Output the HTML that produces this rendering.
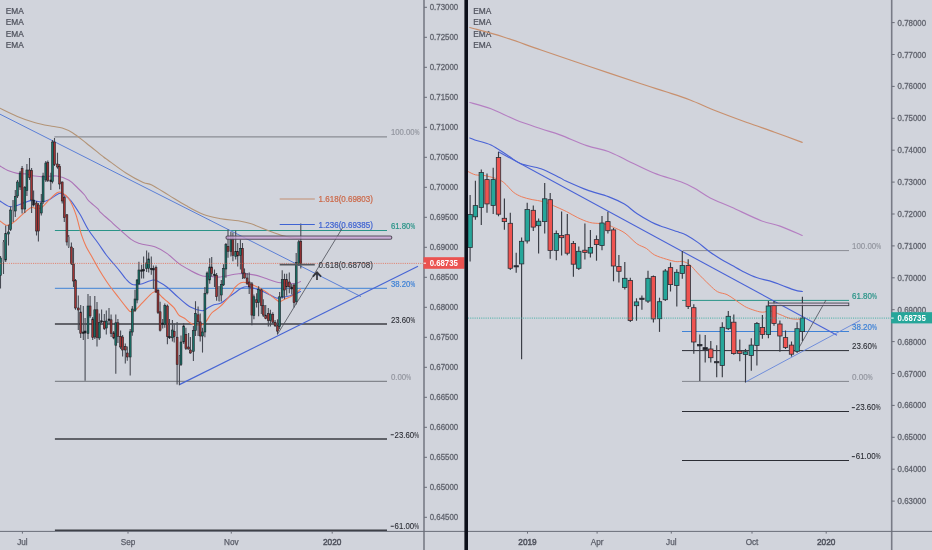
<!DOCTYPE html>
<html><head><meta charset="utf-8"><title>Chart</title>
<style>
html,body{margin:0;padding:0;background:#d1d4dc;}
body{width:932px;height:550px;overflow:hidden;font-family:"Liberation Sans",sans-serif;}
svg{display:block;opacity:0.999;will-change:transform;}
text{font-family:"Liberation Sans",sans-serif;}
</style></head><body>
<svg width="932" height="550" viewBox="0 0 932 550">
<rect x="0" y="0" width="932" height="550" fill="#d1d4dc"/>
<defs><clipPath id="cl"><rect x="0" y="0" width="424" height="531"/></clipPath><clipPath id="cr"><rect x="468" y="0" width="424" height="531"/></clipPath></defs>
<g clip-path="url(#cl)">
<line x1="54.4" y1="136.8" x2="387" y2="136.8" stroke="#8a8d94" stroke-width="1.2" />
<line x1="54.9" y1="230.4" x2="387" y2="230.4" stroke="#2a9488" stroke-width="1.05" />
<line x1="54.9" y1="288.3" x2="387" y2="288.3" stroke="#3f82d6" stroke-width="1.0" />
<line x1="54.9" y1="324" x2="387" y2="324" stroke="#3c3e45" stroke-width="1.3" />
<line x1="54.9" y1="381.4" x2="387" y2="381.4" stroke="#83868d" stroke-width="1.2" />
<line x1="54.9" y1="439" x2="387" y2="439" stroke="#3a3c43" stroke-width="1.5" />
<line x1="54.9" y1="530.4" x2="387" y2="530.4" stroke="#3a3c43" stroke-width="1.6" />
<path d="M0.0 108.2 C2.9 109.6 11.6 114.0 17.3 116.4 C23.1 118.8 28.8 120.8 34.5 122.5 C40.2 124.2 47.2 125.4 51.8 126.3 C56.4 127.2 58.8 126.9 62.2 128.0 C65.7 129.1 68.5 130.3 72.5 132.8 C76.5 135.3 81.2 139.2 86.4 143.2 C91.6 147.2 100.0 154.2 103.6 157.0 C107.2 159.8 104.1 157.3 107.8 160.0 C111.5 162.7 120.0 169.2 125.9 173.0 C131.8 176.8 138.9 180.5 143.2 182.5 C147.5 184.5 147.5 182.8 151.8 185.0 C156.1 187.2 163.3 191.9 169.1 195.4 C174.9 198.9 180.7 202.6 186.4 205.8 C192.2 209.0 197.8 212.2 203.6 214.4 C209.3 216.6 215.1 217.6 220.9 218.7 C226.7 219.8 233.3 220.0 238.2 220.8 C243.1 221.6 245.4 221.9 250.4 223.5 C255.4 225.1 262.9 228.6 268.0 230.6 C273.1 232.6 277.1 234.1 281.0 235.3 C284.9 236.5 288.5 237.2 291.7 237.7 C294.9 238.2 298.6 238.2 300.0 238.3" fill="none" stroke="#b39477" stroke-width="1.1" stroke-linejoin="round" stroke-linecap="round" />
<path d="M0.0 166.0 C1.4 166.8 5.7 169.6 8.6 170.8 C11.5 172.0 14.4 172.9 17.3 173.4 C20.2 173.9 23.0 173.5 25.9 173.9 C28.8 174.3 31.6 175.5 34.5 176.0 C37.4 176.5 39.5 176.9 43.2 176.9 C47.0 176.9 52.7 175.4 57.0 176.0 C61.3 176.6 65.5 178.3 69.0 180.3 C72.5 182.3 75.1 185.6 77.7 188.0 C80.3 190.4 82.8 192.9 84.6 195.0 C86.4 197.1 86.3 198.3 88.5 200.6 C90.7 202.9 96.1 207.0 98.0 208.9 C99.9 210.8 98.0 209.8 100.0 211.8 C102.0 213.8 107.1 218.1 110.0 220.7 C112.9 223.3 113.8 224.3 117.3 227.4 C120.8 230.5 127.4 236.7 131.1 239.4 C134.8 242.1 135.6 242.2 139.7 243.5 C143.8 244.8 150.8 245.3 155.4 247.0 C160.0 248.7 163.3 250.8 167.2 253.6 C171.1 256.4 175.1 260.8 179.0 263.6 C182.9 266.5 186.9 268.6 190.8 270.7 C194.7 272.8 199.4 275.1 202.6 276.0 C205.8 276.9 206.7 276.1 209.7 276.3 C212.7 276.5 215.6 277.4 220.4 277.0 C225.2 276.6 233.0 274.1 238.6 273.7 C244.2 273.3 249.7 274.2 254.0 274.9 C258.3 275.6 260.8 276.8 264.5 278.0 C268.2 279.2 272.4 281.1 276.3 282.0 C280.2 282.9 284.8 283.1 288.1 283.3 C291.5 283.5 294.3 283.6 296.4 283.3 C298.5 283.0 299.8 281.8 300.5 281.5" fill="none" stroke="#ad74b8" stroke-width="1.1" stroke-linejoin="round" stroke-linecap="round" />
<path d="M0.0 201.0 C1.6 201.9 6.5 205.8 9.4 206.5 C12.3 207.2 14.2 206.3 17.7 205.3 C21.2 204.3 26.8 201.2 30.7 200.6 C34.6 200.0 38.1 202.0 41.3 201.8 C44.4 201.6 46.6 200.8 49.6 199.4 C52.6 198.0 56.6 194.3 59.0 193.5 C61.4 192.7 61.8 193.5 63.8 194.7 C65.8 195.9 68.0 197.2 70.8 200.6 C73.5 203.9 77.3 209.9 80.3 214.8 C83.2 219.7 85.5 225.3 88.5 230.0 C91.5 234.7 95.0 238.8 98.0 243.0 C101.0 247.2 103.8 251.7 106.3 255.0 C108.8 258.3 110.7 260.3 113.0 263.0 C115.3 265.7 117.8 268.6 120.0 271.3 C122.2 274.0 123.9 276.8 125.9 279.0 C127.9 281.2 129.5 283.4 131.8 284.3 C134.2 285.2 136.5 285.0 140.0 284.3 C143.5 283.6 149.8 280.4 153.0 280.0 C156.2 279.6 156.6 280.8 159.0 282.0 C161.4 283.2 163.9 284.6 167.2 287.2 C170.5 289.8 174.7 294.4 178.6 297.7 C182.5 301.0 186.5 304.9 190.4 307.1 C194.3 309.3 199.2 310.6 202.2 310.7 C205.1 310.8 206.1 308.7 208.1 307.7 C210.1 306.7 211.8 305.6 214.0 304.8 C216.2 304.0 218.3 304.5 221.1 303.0 C223.9 301.5 228.3 297.6 230.6 295.9 C232.9 294.2 233.3 293.9 235.0 292.7 C236.7 291.5 238.9 289.6 240.9 288.6 C242.9 287.6 243.9 286.6 246.8 286.8 C249.8 287.0 254.7 288.4 258.6 289.8 C262.5 291.2 267.4 293.7 270.4 295.1 C273.3 296.5 274.3 297.6 276.3 298.0 C278.3 298.4 280.2 297.7 282.2 297.4 C284.2 297.1 286.1 296.8 288.1 296.3 C290.1 295.8 291.9 295.3 294.0 294.5 C296.1 293.7 299.4 292.0 300.5 291.5" fill="none" stroke="#4a63d6" stroke-width="1.1" stroke-linejoin="round" stroke-linecap="round" />
<path d="M0.0 221.0 C1.2 221.7 4.6 225.2 7.0 225.4 C9.4 225.6 11.8 223.6 14.2 221.9 C16.6 220.2 18.6 217.8 21.3 215.4 C24.1 213.0 28.4 208.9 30.7 207.7 C33.0 206.5 33.6 208.3 35.4 208.3 C37.2 208.3 38.9 209.2 41.3 207.7 C43.7 206.2 47.0 201.8 49.6 199.4 C52.2 197.0 54.7 194.2 56.7 193.0 C58.7 191.8 59.4 191.5 61.4 192.4 C63.4 193.3 66.1 194.8 68.5 198.3 C70.9 201.8 73.4 207.5 75.6 213.6 C77.8 219.7 79.7 229.4 81.5 234.9 C83.3 240.4 84.6 243.3 86.2 246.7 C87.8 250.0 89.1 251.8 90.9 255.0 C92.7 258.2 95.0 262.5 97.0 266.0 C99.0 269.5 101.0 272.8 103.0 276.0 C105.0 279.2 106.3 281.3 109.0 285.0 C111.7 288.7 116.0 294.1 119.0 298.0 C122.0 301.9 125.3 306.3 127.3 308.6 C129.3 310.9 129.4 311.4 130.8 311.6 C132.2 311.8 133.6 311.3 135.6 309.8 C137.6 308.3 139.7 305.6 142.6 302.7 C145.5 299.8 150.5 294.0 153.0 292.4 C155.5 290.8 156.2 292.1 157.8 293.0 C159.4 293.9 161.0 296.1 162.5 297.5 C164.0 298.9 164.9 299.5 166.8 301.2 C168.7 302.9 171.9 305.4 173.9 307.7 C175.9 310.0 176.8 313.0 178.6 314.8 C180.4 316.6 182.5 316.9 184.5 318.3 C186.5 319.7 188.6 321.9 190.4 323.0 C192.2 324.1 193.1 324.5 195.1 324.8 C197.1 325.1 200.4 325.3 202.2 324.8 C204.0 324.3 204.2 323.9 205.8 321.9 C207.4 319.9 209.5 315.4 211.7 313.0 C213.9 310.6 216.5 309.8 218.8 307.7 C221.2 305.6 223.5 303.4 225.8 300.6 C228.2 297.9 231.4 293.4 232.9 291.2 C234.4 289.0 233.7 288.8 235.0 287.4 C236.3 286.0 238.9 283.5 240.9 282.7 C242.9 281.9 244.8 282.3 246.8 282.7 C248.8 283.1 250.7 284.2 252.7 285.0 C254.7 285.8 256.6 286.4 258.6 287.4 C260.6 288.4 262.5 289.6 264.5 290.9 C266.5 292.2 268.4 293.6 270.4 295.1 C272.4 296.6 274.7 298.7 276.3 299.8 C277.9 300.9 278.5 301.7 279.9 301.6 C281.3 301.5 282.8 300.0 284.6 299.2 C286.4 298.4 288.7 297.7 290.5 296.8 C292.3 295.9 293.5 295.2 295.2 293.9 C296.9 292.6 299.6 290.0 300.5 289.2" fill="none" stroke="#f07a55" stroke-width="1.1" stroke-linejoin="round" stroke-linecap="round" />
<line x1="0" y1="114.2" x2="361" y2="296.6" stroke="#5b7fd6" stroke-width="1.0" />
<line x1="179.4" y1="384.6" x2="418" y2="266.2" stroke="#4866d4" stroke-width="1.2" />
<line x1="277.7" y1="334" x2="343" y2="227" stroke="#4a4c55" stroke-width="0.8" />
<line x1="0.5" y1="256" x2="0.5" y2="288.4" stroke="#484b54" stroke-width="1.1" /><rect x="-0.45" y="258.0" width="1.9" height="17.4" fill="#1a7369" stroke="#1b1d23" stroke-width="0.55"/>
<line x1="3.5" y1="240" x2="3.5" y2="274" stroke="#484b54" stroke-width="1.1" /><rect x="2.50" y="242.0" width="2.0" height="19.8" fill="#7b7e86"/>
<line x1="5.7" y1="225.4" x2="5.7" y2="262" stroke="#484b54" stroke-width="1.1" /><rect x="4.75" y="233.7" width="1.9" height="26.3" fill="#1a7369" stroke="#1b1d23" stroke-width="0.55"/>
<line x1="8.5" y1="224.8" x2="8.5" y2="245.5" stroke="#484b54" stroke-width="1.1" /><rect x="7.55" y="232.0" width="1.9" height="2.0" fill="#1a7369" stroke="#1b1d23" stroke-width="0.55"/>
<line x1="10.6" y1="206.5" x2="10.6" y2="231" stroke="#484b54" stroke-width="1.1" /><rect x="9.65" y="210.0" width="1.9" height="19.5" fill="#1a7369" stroke="#1b1d23" stroke-width="0.55"/>
<line x1="13.2" y1="200" x2="13.2" y2="222" stroke="#484b54" stroke-width="1.1" /><rect x="12.20" y="200.0" width="2.0" height="10.7" fill="#7b7e86"/>
<line x1="15.3" y1="190" x2="15.3" y2="217" stroke="#484b54" stroke-width="1.1" /><rect x="14.35" y="196.5" width="1.9" height="14.5" fill="#1a7369" stroke="#1b1d23" stroke-width="0.55"/>
<line x1="17.5" y1="180" x2="17.5" y2="198" stroke="#484b54" stroke-width="1.1" /><rect x="16.55" y="182.0" width="1.9" height="14.0" fill="#1a7369" stroke="#1b1d23" stroke-width="0.55"/>
<line x1="20.1" y1="171" x2="20.1" y2="190" stroke="#484b54" stroke-width="1.1" /><rect x="19.15" y="173.0" width="1.9" height="14.0" fill="#1a7369" stroke="#1b1d23" stroke-width="0.55"/>
<line x1="22.1" y1="166" x2="22.1" y2="213.6" stroke="#484b54" stroke-width="1.1" /><rect x="21.15" y="168.6" width="1.9" height="40.4" fill="#a03434" stroke="#1b1d23" stroke-width="0.55"/>
<line x1="24.8" y1="186" x2="24.8" y2="213" stroke="#484b54" stroke-width="1.1" /><rect x="23.85" y="187.5" width="1.9" height="21.5" fill="#1a7369" stroke="#1b1d23" stroke-width="0.55"/>
<line x1="26.9" y1="164" x2="26.9" y2="196" stroke="#484b54" stroke-width="1.1" /><rect x="25.95" y="170.0" width="1.9" height="20.5" fill="#1a7369" stroke="#1b1d23" stroke-width="0.55"/>
<line x1="29.5" y1="158" x2="29.5" y2="180" stroke="#484b54" stroke-width="1.1" /><rect x="28.55" y="170.0" width="1.9" height="7.5" fill="#a03434" stroke="#1b1d23" stroke-width="0.55"/>
<line x1="31.6" y1="168" x2="31.6" y2="213" stroke="#484b54" stroke-width="1.1" /><rect x="30.65" y="170.4" width="1.9" height="29.6" fill="#a03434" stroke="#1b1d23" stroke-width="0.55"/>
<line x1="33.6" y1="190.5" x2="33.6" y2="206.5" stroke="#484b54" stroke-width="1.1" /><rect x="32.65" y="200.0" width="1.9" height="5.0" fill="#1c1e24" stroke="#1b1d23" stroke-width="0.55"/>
<line x1="36.5" y1="201" x2="36.5" y2="235.5" stroke="#484b54" stroke-width="1.1" /><rect x="35.55" y="203.0" width="1.9" height="28.0" fill="#a03434" stroke="#1b1d23" stroke-width="0.55"/>
<line x1="38.4" y1="203" x2="38.4" y2="241.4" stroke="#484b54" stroke-width="1.1" /><rect x="37.45" y="205.0" width="1.9" height="26.0" fill="#a03434" stroke="#1b1d23" stroke-width="0.55"/>
<line x1="41.3" y1="194" x2="41.3" y2="215.5" stroke="#484b54" stroke-width="1.1" /><rect x="40.35" y="203.0" width="1.9" height="10.0" fill="#1a7369" stroke="#1b1d23" stroke-width="0.55"/>
<line x1="43.1" y1="172.8" x2="43.1" y2="204" stroke="#484b54" stroke-width="1.1" /><rect x="42.15" y="176.0" width="1.9" height="26.0" fill="#1a7369" stroke="#1b1d23" stroke-width="0.55"/>
<line x1="45.8" y1="161" x2="45.8" y2="182" stroke="#484b54" stroke-width="1.1" /><rect x="44.85" y="163.0" width="1.9" height="17.0" fill="#1a7369" stroke="#1b1d23" stroke-width="0.55"/>
<line x1="47.8" y1="160.4" x2="47.8" y2="182" stroke="#484b54" stroke-width="1.1" /><rect x="46.85" y="162.7" width="1.9" height="17.8" fill="#a03434" stroke="#1b1d23" stroke-width="0.55"/>
<line x1="50.8" y1="172.8" x2="50.8" y2="190" stroke="#484b54" stroke-width="1.1" /><rect x="49.85" y="180.0" width="1.9" height="1.6" fill="#1c1e24" stroke="#1b1d23" stroke-width="0.55"/>
<line x1="52.5" y1="140" x2="52.5" y2="183.4" stroke="#484b54" stroke-width="1.1" /><rect x="51.55" y="142.0" width="1.9" height="39.6" fill="#1a7369" stroke="#1b1d23" stroke-width="0.55"/>
<line x1="54.5" y1="138" x2="54.5" y2="166" stroke="#484b54" stroke-width="1.1" /><rect x="53.55" y="142.0" width="1.9" height="22.5" fill="#a03434" stroke="#1b1d23" stroke-width="0.55"/>
<line x1="57.5" y1="152.7" x2="57.5" y2="168.7" stroke="#484b54" stroke-width="1.1" /><rect x="56.55" y="164.0" width="1.9" height="3.0" fill="#a03434" stroke="#1b1d23" stroke-width="0.55"/>
<line x1="59.6" y1="164" x2="59.6" y2="189.3" stroke="#484b54" stroke-width="1.1" /><rect x="58.65" y="166.3" width="1.9" height="17.7" fill="#a03434" stroke="#1b1d23" stroke-width="0.55"/>
<line x1="62.2" y1="181.6" x2="62.2" y2="203.6" stroke="#484b54" stroke-width="1.1" /><rect x="61.25" y="182.0" width="1.9" height="19.0" fill="#a03434" stroke="#1b1d23" stroke-width="0.55"/>
<line x1="64.3" y1="196" x2="64.3" y2="222" stroke="#484b54" stroke-width="1.1" /><rect x="63.35" y="197.7" width="1.9" height="20.0" fill="#a03434" stroke="#1b1d23" stroke-width="0.55"/>
<line x1="66.9" y1="214" x2="66.9" y2="245.5" stroke="#484b54" stroke-width="1.1" /><rect x="65.95" y="214.8" width="1.9" height="27.2" fill="#a03434" stroke="#1b1d23" stroke-width="0.55"/>
<line x1="68.7" y1="235" x2="68.7" y2="248" stroke="#484b54" stroke-width="1.1" /><rect x="67.70" y="237.0" width="2.0" height="9.7" fill="#7b7e86"/>
<line x1="71.4" y1="242.5" x2="71.4" y2="265" stroke="#484b54" stroke-width="1.1" /><rect x="70.45" y="247.0" width="1.9" height="16.6" fill="#a03434" stroke="#1b1d23" stroke-width="0.55"/>
<line x1="73.5" y1="248" x2="73.5" y2="287" stroke="#484b54" stroke-width="1.1" /><rect x="72.55" y="264.0" width="1.9" height="17.0" fill="#a03434" stroke="#1b1d23" stroke-width="0.55"/>
<line x1="75.5" y1="279" x2="75.5" y2="309.8" stroke="#484b54" stroke-width="1.1" /><rect x="74.55" y="280.7" width="1.9" height="27.3" fill="#a03434" stroke="#1b1d23" stroke-width="0.55"/>
<line x1="78.3" y1="295.6" x2="78.3" y2="330" stroke="#484b54" stroke-width="1.1" /><rect x="77.35" y="308.0" width="1.9" height="2.0" fill="#a03434" stroke="#1b1d23" stroke-width="0.55"/>
<line x1="80.7" y1="305" x2="80.7" y2="338" stroke="#484b54" stroke-width="1.1" /><rect x="79.75" y="312.0" width="1.9" height="21.4" fill="#a03434" stroke="#1b1d23" stroke-width="0.55"/>
<line x1="83.3" y1="306" x2="83.3" y2="340" stroke="#484b54" stroke-width="1.1" /><rect x="82.35" y="332.0" width="1.9" height="1.4" fill="#1c1e24" stroke="#1b1d23" stroke-width="0.55"/>
<line x1="85.1" y1="318" x2="85.1" y2="380.8" stroke="#484b54" stroke-width="1.1" /><rect x="84.15" y="331.0" width="1.9" height="2.0" fill="#1c1e24" stroke="#1b1d23" stroke-width="0.55"/>
<line x1="88" y1="293.9" x2="88" y2="339" stroke="#484b54" stroke-width="1.1" /><rect x="87.05" y="306.0" width="1.9" height="27.4" fill="#1a7369" stroke="#1b1d23" stroke-width="0.55"/>
<line x1="90.1" y1="296" x2="90.1" y2="318" stroke="#484b54" stroke-width="1.1" /><rect x="89.15" y="306.0" width="1.9" height="10.0" fill="#a03434" stroke="#1b1d23" stroke-width="0.55"/>
<line x1="92.7" y1="317" x2="92.7" y2="339.9" stroke="#484b54" stroke-width="1.1" /><rect x="91.75" y="319.0" width="1.9" height="18.5" fill="#a03434" stroke="#1b1d23" stroke-width="0.55"/>
<line x1="94.8" y1="296" x2="94.8" y2="339" stroke="#484b54" stroke-width="1.1" /><rect x="93.85" y="309.8" width="1.9" height="27.2" fill="#1a7369" stroke="#1b1d23" stroke-width="0.55"/>
<line x1="97" y1="302" x2="97" y2="346.4" stroke="#484b54" stroke-width="1.1" /><rect x="96.05" y="309.8" width="1.9" height="27.7" fill="#a03434" stroke="#1b1d23" stroke-width="0.55"/>
<line x1="99.3" y1="313.4" x2="99.3" y2="340" stroke="#484b54" stroke-width="1.1" /><rect x="98.35" y="322.5" width="1.9" height="15.5" fill="#1a7369" stroke="#1b1d23" stroke-width="0.55"/>
<line x1="101.6" y1="309.6" x2="101.6" y2="323" stroke="#484b54" stroke-width="1.1" /><rect x="100.65" y="320.8" width="1.9" height="1.2" fill="#1c1e24" stroke="#1b1d23" stroke-width="0.55"/>
<line x1="104.3" y1="314" x2="104.3" y2="330" stroke="#484b54" stroke-width="1.1" /><rect x="103.35" y="321.6" width="1.9" height="7.1" fill="#a03434" stroke="#1b1d23" stroke-width="0.55"/>
<line x1="106.3" y1="310.4" x2="106.3" y2="334.6" stroke="#484b54" stroke-width="1.1" /><rect x="105.35" y="321.0" width="1.9" height="7.0" fill="#1a7369" stroke="#1b1d23" stroke-width="0.55"/>
<line x1="109" y1="308" x2="109" y2="324" stroke="#484b54" stroke-width="1.1" /><rect x="108.05" y="319.0" width="1.9" height="1.4" fill="#1c1e24" stroke="#1b1d23" stroke-width="0.55"/>
<line x1="111.1" y1="314.5" x2="111.1" y2="337" stroke="#484b54" stroke-width="1.1" /><rect x="110.15" y="319.8" width="1.9" height="13.6" fill="#a03434" stroke="#1b1d23" stroke-width="0.55"/>
<line x1="113.7" y1="331" x2="113.7" y2="339.3" stroke="#484b54" stroke-width="1.1" /><rect x="112.75" y="332.8" width="1.9" height="5.2" fill="#a03434" stroke="#1b1d23" stroke-width="0.55"/>
<line x1="115.8" y1="314.5" x2="115.8" y2="373.7" stroke="#484b54" stroke-width="1.1" /><rect x="114.85" y="322.8" width="1.9" height="22.4" fill="#1a7369" stroke="#1b1d23" stroke-width="0.55"/>
<line x1="117.9" y1="319" x2="117.9" y2="343" stroke="#484b54" stroke-width="1.1" /><rect x="116.95" y="322.8" width="1.9" height="13.6" fill="#a03434" stroke="#1b1d23" stroke-width="0.55"/>
<line x1="120.6" y1="330.5" x2="120.6" y2="349" stroke="#484b54" stroke-width="1.1" /><rect x="119.65" y="336.4" width="1.9" height="10.6" fill="#a03434" stroke="#1b1d23" stroke-width="0.55"/>
<line x1="122.6" y1="335" x2="122.6" y2="356.6" stroke="#484b54" stroke-width="1.1" /><rect x="121.65" y="337.0" width="1.9" height="13.0" fill="#a03434" stroke="#1b1d23" stroke-width="0.55"/>
<line x1="125.3" y1="343.6" x2="125.3" y2="363.6" stroke="#484b54" stroke-width="1.1" /><rect x="124.35" y="346.5" width="1.9" height="3.5" fill="#a03434" stroke="#1b1d23" stroke-width="0.55"/>
<line x1="127.3" y1="346.5" x2="127.3" y2="360.7" stroke="#484b54" stroke-width="1.1" /><rect x="126.35" y="353.0" width="1.9" height="4.0" fill="#a03434" stroke="#1b1d23" stroke-width="0.55"/>
<line x1="130.2" y1="329" x2="130.2" y2="375.5" stroke="#484b54" stroke-width="1.1" /><rect x="129.25" y="331.8" width="1.9" height="25.2" fill="#1a7369" stroke="#1b1d23" stroke-width="0.55"/>
<line x1="132.3" y1="306" x2="132.3" y2="335.7" stroke="#484b54" stroke-width="1.1" /><rect x="131.35" y="309.0" width="1.9" height="23.0" fill="#1a7369" stroke="#1b1d23" stroke-width="0.55"/>
<line x1="135" y1="289.7" x2="135" y2="312" stroke="#484b54" stroke-width="1.1" /><rect x="134.05" y="299.0" width="1.9" height="11.4" fill="#1a7369" stroke="#1b1d23" stroke-width="0.55"/>
<line x1="137.1" y1="279" x2="137.1" y2="303.3" stroke="#484b54" stroke-width="1.1" /><rect x="136.15" y="280.0" width="1.9" height="20.0" fill="#1a7369" stroke="#1b1d23" stroke-width="0.55"/>
<line x1="138.9" y1="261.8" x2="138.9" y2="285" stroke="#484b54" stroke-width="1.1" /><rect x="137.95" y="270.0" width="1.9" height="13.7" fill="#1a7369" stroke="#1b1d23" stroke-width="0.55"/>
<line x1="141.6" y1="264.8" x2="141.6" y2="278.4" stroke="#484b54" stroke-width="1.1" /><rect x="140.65" y="270.0" width="1.9" height="1.2" fill="#1c1e24" stroke="#1b1d23" stroke-width="0.55"/>
<line x1="143.6" y1="256.5" x2="143.6" y2="278.4" stroke="#484b54" stroke-width="1.1" /><rect x="142.65" y="269.6" width="1.9" height="1.4" fill="#1c1e24" stroke="#1b1d23" stroke-width="0.55"/>
<line x1="146.6" y1="250.6" x2="146.6" y2="271.9" stroke="#484b54" stroke-width="1.1" /><rect x="145.65" y="263.0" width="1.9" height="5.3" fill="#1a7369" stroke="#1b1d23" stroke-width="0.55"/>
<line x1="148.7" y1="252.4" x2="148.7" y2="272.5" stroke="#484b54" stroke-width="1.1" /><rect x="147.75" y="258.9" width="1.9" height="9.4" fill="#1a7369" stroke="#1b1d23" stroke-width="0.55"/>
<line x1="151.3" y1="256.5" x2="151.3" y2="274.8" stroke="#484b54" stroke-width="1.1" /><rect x="150.35" y="268.3" width="1.9" height="1.4" fill="#1c1e24" stroke="#1b1d23" stroke-width="0.55"/>
<line x1="153.4" y1="265.4" x2="153.4" y2="289" stroke="#484b54" stroke-width="1.1" /><rect x="152.45" y="268.5" width="1.9" height="1.5" fill="#1c1e24" stroke="#1b1d23" stroke-width="0.55"/>
<line x1="156" y1="265.4" x2="156" y2="293" stroke="#484b54" stroke-width="1.1" /><rect x="155.05" y="267.7" width="1.9" height="24.3" fill="#a03434" stroke="#1b1d23" stroke-width="0.55"/>
<line x1="158" y1="289" x2="158" y2="314" stroke="#484b54" stroke-width="1.1" /><rect x="157.05" y="290.5" width="1.9" height="22.0" fill="#a03434" stroke="#1b1d23" stroke-width="0.55"/>
<line x1="160.1" y1="301.8" x2="160.1" y2="331.5" stroke="#484b54" stroke-width="1.1" /><rect x="159.15" y="311.8" width="1.9" height="18.4" fill="#a03434" stroke="#1b1d23" stroke-width="0.55"/>
<line x1="162.7" y1="319" x2="162.7" y2="328.4" stroke="#484b54" stroke-width="1.1" /><rect x="161.75" y="323.0" width="1.9" height="1.5" fill="#1c1e24" stroke="#1b1d23" stroke-width="0.55"/>
<line x1="164.8" y1="303.6" x2="164.8" y2="327.8" stroke="#484b54" stroke-width="1.1" /><rect x="163.85" y="305.5" width="1.9" height="18.7" fill="#1a7369" stroke="#1b1d23" stroke-width="0.55"/>
<line x1="167.4" y1="304.5" x2="167.4" y2="344.3" stroke="#484b54" stroke-width="1.1" /><rect x="166.45" y="306.0" width="1.9" height="30.6" fill="#a03434" stroke="#1b1d23" stroke-width="0.55"/>
<line x1="169.5" y1="319" x2="169.5" y2="339" stroke="#484b54" stroke-width="1.1" /><rect x="168.55" y="336.6" width="1.9" height="1.2" fill="#1c1e24" stroke="#1b1d23" stroke-width="0.55"/>
<line x1="172.4" y1="320" x2="172.4" y2="341.4" stroke="#484b54" stroke-width="1.1" /><rect x="171.45" y="330.0" width="1.9" height="7.8" fill="#1a7369" stroke="#1b1d23" stroke-width="0.55"/>
<line x1="174.2" y1="323.6" x2="174.2" y2="342.5" stroke="#484b54" stroke-width="1.1" /><rect x="173.25" y="331.3" width="1.9" height="5.3" fill="#a03434" stroke="#1b1d23" stroke-width="0.55"/>
<line x1="177.1" y1="321.9" x2="177.1" y2="384.6" stroke="#484b54" stroke-width="1.1" /><rect x="176.15" y="337.2" width="1.9" height="27.3" fill="#a03434" stroke="#1b1d23" stroke-width="0.55"/>
<line x1="179.4" y1="355" x2="179.4" y2="385.2" stroke="#484b54" stroke-width="1.1" /><rect x="178.40" y="356.0" width="2.0" height="8.5" fill="#7b7e86"/>
<line x1="181" y1="335.5" x2="181" y2="366" stroke="#484b54" stroke-width="1.1" /><rect x="180.05" y="342.0" width="1.9" height="22.5" fill="#1a7369" stroke="#1b1d23" stroke-width="0.55"/>
<line x1="183.7" y1="323" x2="183.7" y2="344" stroke="#484b54" stroke-width="1.1" /><rect x="182.75" y="326.0" width="1.9" height="16.0" fill="#1a7369" stroke="#1b1d23" stroke-width="0.55"/>
<line x1="185.9" y1="327.8" x2="185.9" y2="350" stroke="#484b54" stroke-width="1.1" /><rect x="184.95" y="334.3" width="1.9" height="14.1" fill="#a03434" stroke="#1b1d23" stroke-width="0.55"/>
<line x1="188.6" y1="333" x2="188.6" y2="349.6" stroke="#484b54" stroke-width="1.1" /><rect x="187.65" y="347.0" width="1.9" height="2.0" fill="#a03434" stroke="#1b1d23" stroke-width="0.55"/>
<line x1="190.4" y1="337" x2="190.4" y2="353.8" stroke="#484b54" stroke-width="1.1" /><rect x="189.45" y="350.0" width="1.9" height="3.0" fill="#a03434" stroke="#1b1d23" stroke-width="0.55"/>
<line x1="193.4" y1="326" x2="193.4" y2="361" stroke="#484b54" stroke-width="1.1" /><rect x="192.45" y="330.7" width="1.9" height="20.7" fill="#1a7369" stroke="#1b1d23" stroke-width="0.55"/>
<line x1="195.5" y1="301.2" x2="195.5" y2="336" stroke="#484b54" stroke-width="1.1" /><rect x="194.55" y="313.6" width="1.9" height="17.1" fill="#1a7369" stroke="#1b1d23" stroke-width="0.55"/>
<line x1="198.1" y1="306.5" x2="198.1" y2="336" stroke="#484b54" stroke-width="1.1" /><rect x="197.15" y="314.8" width="1.9" height="7.1" fill="#a03434" stroke="#1b1d23" stroke-width="0.55"/>
<line x1="200.2" y1="313.6" x2="200.2" y2="341.4" stroke="#484b54" stroke-width="1.1" /><rect x="199.25" y="321.9" width="1.9" height="14.1" fill="#a03434" stroke="#1b1d23" stroke-width="0.55"/>
<line x1="202.5" y1="327.8" x2="202.5" y2="352.6" stroke="#484b54" stroke-width="1.1" /><rect x="201.55" y="332.0" width="1.9" height="4.0" fill="#1a7369" stroke="#1b1d23" stroke-width="0.55"/>
<line x1="204.9" y1="287" x2="204.9" y2="337.2" stroke="#484b54" stroke-width="1.1" /><rect x="203.95" y="293.5" width="1.9" height="38.5" fill="#1a7369" stroke="#1b1d23" stroke-width="0.55"/>
<line x1="207.1" y1="271.5" x2="207.1" y2="294.5" stroke="#484b54" stroke-width="1.1" /><rect x="206.15" y="273.0" width="1.9" height="20.0" fill="#1a7369" stroke="#1b1d23" stroke-width="0.55"/>
<line x1="209.7" y1="258.3" x2="209.7" y2="283.7" stroke="#484b54" stroke-width="1.1" /><rect x="208.75" y="267.0" width="1.9" height="13.0" fill="#1a7369" stroke="#1b1d23" stroke-width="0.55"/>
<line x1="211.7" y1="257" x2="211.7" y2="276.6" stroke="#484b54" stroke-width="1.1" /><rect x="210.75" y="267.0" width="1.9" height="6.6" fill="#a03434" stroke="#1b1d23" stroke-width="0.55"/>
<line x1="214.5" y1="269.5" x2="214.5" y2="287" stroke="#484b54" stroke-width="1.1" /><rect x="213.55" y="274.2" width="1.9" height="1.4" fill="#1c1e24" stroke="#1b1d23" stroke-width="0.55"/>
<line x1="216.6" y1="273" x2="216.6" y2="300.8" stroke="#484b54" stroke-width="1.1" /><rect x="215.65" y="275.4" width="1.9" height="21.3" fill="#a03434" stroke="#1b1d23" stroke-width="0.55"/>
<line x1="219.2" y1="286" x2="219.2" y2="301.6" stroke="#484b54" stroke-width="1.1" /><rect x="218.20" y="286.0" width="2.0" height="15.0" fill="#7b7e86"/>
<line x1="221.3" y1="280" x2="221.3" y2="301.4" stroke="#484b54" stroke-width="1.1" /><rect x="220.35" y="284.3" width="1.9" height="10.7" fill="#1a7369" stroke="#1b1d23" stroke-width="0.55"/>
<line x1="223.5" y1="264.2" x2="223.5" y2="286" stroke="#484b54" stroke-width="1.1" /><rect x="222.55" y="268.3" width="1.9" height="16.6" fill="#1a7369" stroke="#1b1d23" stroke-width="0.55"/>
<line x1="225.9" y1="243" x2="225.9" y2="277.8" stroke="#484b54" stroke-width="1.1" /><rect x="224.95" y="244.7" width="1.9" height="24.3" fill="#1a7369" stroke="#1b1d23" stroke-width="0.55"/>
<line x1="228" y1="229.4" x2="228" y2="257.7" stroke="#484b54" stroke-width="1.1" /><rect x="227.05" y="246.3" width="1.9" height="5.0" fill="#a03434" stroke="#1b1d23" stroke-width="0.55"/>
<line x1="230.9" y1="231.8" x2="230.9" y2="256.6" stroke="#484b54" stroke-width="1.1" /><rect x="229.95" y="239.5" width="1.9" height="11.8" fill="#1a7369" stroke="#1b1d23" stroke-width="0.55"/>
<line x1="232.9" y1="232.4" x2="232.9" y2="261.3" stroke="#484b54" stroke-width="1.1" /><rect x="231.95" y="239.5" width="1.9" height="15.9" fill="#a03434" stroke="#1b1d23" stroke-width="0.55"/>
<line x1="235.7" y1="230.6" x2="235.7" y2="259.6" stroke="#484b54" stroke-width="1.1" /><rect x="234.75" y="251.3" width="1.9" height="5.3" fill="#1a7369" stroke="#1b1d23" stroke-width="0.55"/>
<line x1="237.7" y1="243" x2="237.7" y2="266.6" stroke="#484b54" stroke-width="1.1" /><rect x="236.75" y="251.3" width="1.9" height="4.7" fill="#a03434" stroke="#1b1d23" stroke-width="0.55"/>
<line x1="240.4" y1="239.5" x2="240.4" y2="269.6" stroke="#484b54" stroke-width="1.1" /><rect x="239.45" y="248.3" width="1.9" height="7.1" fill="#1a7369" stroke="#1b1d23" stroke-width="0.55"/>
<line x1="242.5" y1="243" x2="242.5" y2="279" stroke="#484b54" stroke-width="1.1" /><rect x="241.55" y="248.3" width="1.9" height="24.8" fill="#a03434" stroke="#1b1d23" stroke-width="0.55"/>
<line x1="244.5" y1="268.4" x2="244.5" y2="278.5" stroke="#484b54" stroke-width="1.1" /><rect x="243.55" y="273.0" width="1.9" height="5.0" fill="#a03434" stroke="#1b1d23" stroke-width="0.55"/>
<line x1="247.1" y1="273" x2="247.1" y2="285" stroke="#484b54" stroke-width="1.1" /><rect x="246.15" y="278.0" width="1.9" height="5.5" fill="#a03434" stroke="#1b1d23" stroke-width="0.55"/>
<line x1="249.2" y1="272.5" x2="249.2" y2="293.9" stroke="#484b54" stroke-width="1.1" /><rect x="248.25" y="282.0" width="1.9" height="4.8" fill="#a03434" stroke="#1b1d23" stroke-width="0.55"/>
<line x1="251.9" y1="282" x2="251.9" y2="325.2" stroke="#484b54" stroke-width="1.1" /><rect x="250.95" y="283.9" width="1.9" height="31.2" fill="#a03434" stroke="#1b1d23" stroke-width="0.55"/>
<line x1="253.9" y1="294.5" x2="253.9" y2="319.3" stroke="#484b54" stroke-width="1.1" /><rect x="252.95" y="296.8" width="1.9" height="18.9" fill="#1a7369" stroke="#1b1d23" stroke-width="0.55"/>
<line x1="256.6" y1="293.3" x2="256.6" y2="307.5" stroke="#484b54" stroke-width="1.1" /><rect x="255.65" y="299.8" width="1.9" height="2.9" fill="#a03434" stroke="#1b1d23" stroke-width="0.55"/>
<line x1="258.6" y1="286.2" x2="258.6" y2="316.3" stroke="#484b54" stroke-width="1.1" /><rect x="257.65" y="289.2" width="1.9" height="13.5" fill="#1a7369" stroke="#1b1d23" stroke-width="0.55"/>
<line x1="261.3" y1="288.6" x2="261.3" y2="314" stroke="#484b54" stroke-width="1.1" /><rect x="260.35" y="289.8" width="1.9" height="15.9" fill="#a03434" stroke="#1b1d23" stroke-width="0.55"/>
<line x1="263.3" y1="299.2" x2="263.3" y2="316.9" stroke="#484b54" stroke-width="1.1" /><rect x="262.35" y="305.7" width="1.9" height="9.4" fill="#a03434" stroke="#1b1d23" stroke-width="0.55"/>
<line x1="265.7" y1="305.1" x2="265.7" y2="319.3" stroke="#484b54" stroke-width="1.1" /><rect x="264.75" y="315.1" width="1.9" height="3.6" fill="#a03434" stroke="#1b1d23" stroke-width="0.55"/>
<line x1="268.3" y1="308" x2="268.3" y2="326.4" stroke="#484b54" stroke-width="1.1" /><rect x="267.35" y="313.4" width="1.9" height="7.1" fill="#a03434" stroke="#1b1d23" stroke-width="0.55"/>
<line x1="270.4" y1="309.8" x2="270.4" y2="326.4" stroke="#484b54" stroke-width="1.1" /><rect x="269.45" y="314.0" width="1.9" height="6.5" fill="#1a7369" stroke="#1b1d23" stroke-width="0.55"/>
<line x1="272.8" y1="312.2" x2="272.8" y2="323.4" stroke="#484b54" stroke-width="1.1" /><rect x="271.85" y="314.5" width="1.9" height="7.7" fill="#a03434" stroke="#1b1d23" stroke-width="0.55"/>
<line x1="275.1" y1="319.9" x2="275.1" y2="327" stroke="#484b54" stroke-width="1.1" /><rect x="274.15" y="322.2" width="1.9" height="3.6" fill="#a03434" stroke="#1b1d23" stroke-width="0.55"/>
<line x1="277.5" y1="319.3" x2="277.5" y2="334.6" stroke="#484b54" stroke-width="1.1" /><rect x="276.55" y="325.8" width="1.9" height="5.3" fill="#a03434" stroke="#1b1d23" stroke-width="0.55"/>
<line x1="279.6" y1="292.1" x2="279.6" y2="329.3" stroke="#484b54" stroke-width="1.1" /><rect x="278.65" y="296.8" width="1.9" height="29.6" fill="#1a7369" stroke="#1b1d23" stroke-width="0.55"/>
<line x1="282.2" y1="270.2" x2="282.2" y2="298.6" stroke="#484b54" stroke-width="1.1" /><rect x="281.25" y="279.7" width="1.9" height="17.1" fill="#1a7369" stroke="#1b1d23" stroke-width="0.55"/>
<line x1="284.5" y1="273.7" x2="284.5" y2="299.2" stroke="#484b54" stroke-width="1.1" /><rect x="283.55" y="279.7" width="1.9" height="10.3" fill="#a03434" stroke="#1b1d23" stroke-width="0.55"/>
<line x1="286.7" y1="273.7" x2="286.7" y2="295.7" stroke="#484b54" stroke-width="1.1" /><rect x="285.75" y="279.7" width="1.9" height="7.1" fill="#a03434" stroke="#1b1d23" stroke-width="0.55"/>
<line x1="289.3" y1="272.5" x2="289.3" y2="293.3" stroke="#484b54" stroke-width="1.1" /><rect x="288.35" y="282.0" width="1.9" height="4.8" fill="#a03434" stroke="#1b1d23" stroke-width="0.55"/>
<line x1="291.7" y1="283.9" x2="291.7" y2="294.5" stroke="#484b54" stroke-width="1.1" /><rect x="290.75" y="287.0" width="1.9" height="2.0" fill="#1c1e24" stroke="#1b1d23" stroke-width="0.55"/>
<line x1="294" y1="283.5" x2="294" y2="307.5" stroke="#484b54" stroke-width="1.1" /><rect x="293.05" y="285.0" width="1.9" height="17.7" fill="#a03434" stroke="#1b1d23" stroke-width="0.55"/>
<line x1="296.2" y1="253" x2="296.2" y2="304.5" stroke="#484b54" stroke-width="1.1" /><rect x="295.25" y="262.5" width="1.9" height="39.1" fill="#1a7369" stroke="#1b1d23" stroke-width="0.55"/>
<line x1="298.8" y1="240" x2="298.8" y2="266" stroke="#484b54" stroke-width="1.1" /><rect x="297.85" y="241.8" width="1.9" height="22.5" fill="#1a7369" stroke="#1b1d23" stroke-width="0.55"/>
<line x1="300.8" y1="223.5" x2="300.8" y2="268.4" stroke="#484b54" stroke-width="1.1" /><rect x="299.85" y="241.3" width="1.9" height="22.4" fill="#a03434" stroke="#1b1d23" stroke-width="0.55"/>
<line x1="0" y1="263.4" x2="424" y2="263.4" stroke="#ea5b3c" stroke-width="0.8" stroke-dasharray="1.1 1.1" stroke-opacity="0.85"/>
<rect x="226" y="236" width="165.8" height="3.2" rx="1.4" fill="#c8a4d6" fill-opacity="0.8" stroke="#4a4552" stroke-opacity="0.9" stroke-width="1.1"/>
<line x1="279.7" y1="199" x2="314.8" y2="199" stroke="#c48d70" stroke-width="1.05" />
<line x1="279.7" y1="224.5" x2="314.8" y2="224.5" stroke="#3f63d2" stroke-width="1.2" />
<line x1="279.7" y1="264.6" x2="314.8" y2="264.6" stroke="#55585f" stroke-width="1.6" />
<path d="M312.9 276.6 L317 272.2 L321.1 276.6 M317 272.6 L317 280" fill="none" stroke="#33353c" stroke-width="1.7" stroke-linejoin="miter"/>
</g>
<text x="390.9" y="135.3" fill="#9497a0" font-size="8.9" text-anchor="start" font-weight="normal" textLength="23.65" lengthAdjust="spacingAndGlyphs" stroke="#9497a0" stroke-width="0.22" >100.00</text>
<text x="414.65" y="135.3" fill="#9497a0" font-size="8.9" text-anchor="start" font-weight="normal" textLength="4.7" lengthAdjust="spacingAndGlyphs" stroke="#9497a0" stroke-width="0.22" >%</text>
<text x="390.9" y="229.2" fill="#2a9488" font-size="8.9" text-anchor="start" font-weight="normal" textLength="19.5" lengthAdjust="spacingAndGlyphs" stroke="#2a9488" stroke-width="0.22" >61.80</text>
<text x="410.5" y="229.2" fill="#2a9488" font-size="8.9" text-anchor="start" font-weight="normal" textLength="4.7" lengthAdjust="spacingAndGlyphs" stroke="#2a9488" stroke-width="0.22" >%</text>
<text x="390.9" y="286.7" fill="#3f82d6" font-size="8.9" text-anchor="start" font-weight="normal" textLength="19.5" lengthAdjust="spacingAndGlyphs" stroke="#3f82d6" stroke-width="0.22" >38.20</text>
<text x="410.5" y="286.7" fill="#3f82d6" font-size="8.9" text-anchor="start" font-weight="normal" textLength="4.7" lengthAdjust="spacingAndGlyphs" stroke="#3f82d6" stroke-width="0.22" >%</text>
<text x="390.9" y="322.5" fill="#2b2d34" font-size="8.9" text-anchor="start" font-weight="normal" textLength="19.5" lengthAdjust="spacingAndGlyphs" stroke="#2b2d34" stroke-width="0.1" >23.60</text>
<text x="410.5" y="322.5" fill="#2b2d34" font-size="8.9" text-anchor="start" font-weight="normal" textLength="4.7" lengthAdjust="spacingAndGlyphs" stroke="#2b2d34" stroke-width="0.1" >%</text>
<text x="390.9" y="379.9" fill="#9497a0" font-size="8.9" text-anchor="start" font-weight="normal" textLength="15.35" lengthAdjust="spacingAndGlyphs" stroke="#9497a0" stroke-width="0.22" >0.00</text>
<text x="406.35" y="379.9" fill="#9497a0" font-size="8.9" text-anchor="start" font-weight="normal" textLength="4.7" lengthAdjust="spacingAndGlyphs" stroke="#9497a0" stroke-width="0.22" >%</text>
<line x1="390.7" y1="434.75" x2="393.79999999999995" y2="434.75" stroke="#2b2d34" stroke-width="1.0" />
<text x="394.59999999999997" y="437.5" fill="#2b2d34" font-size="8.9" text-anchor="start" font-weight="normal" textLength="19.5" lengthAdjust="spacingAndGlyphs" stroke="#2b2d34" stroke-width="0.1" >23.60</text>
<text x="414.2" y="437.5" fill="#2b2d34" font-size="8.9" text-anchor="start" font-weight="normal" textLength="4.7" lengthAdjust="spacingAndGlyphs" stroke="#2b2d34" stroke-width="0.1" >%</text>
<line x1="390.7" y1="526.25" x2="393.79999999999995" y2="526.25" stroke="#2b2d34" stroke-width="1.0" />
<text x="394.59999999999997" y="529.0" fill="#2b2d34" font-size="8.9" text-anchor="start" font-weight="normal" textLength="19.5" lengthAdjust="spacingAndGlyphs" stroke="#2b2d34" stroke-width="0.1" >61.00</text>
<text x="414.2" y="529.0" fill="#2b2d34" font-size="8.9" text-anchor="start" font-weight="normal" textLength="4.7" lengthAdjust="spacingAndGlyphs" stroke="#2b2d34" stroke-width="0.1" >%</text>
<text x="318.6" y="202.1" fill="#cc6848" font-size="8.9" text-anchor="start" font-weight="normal" textLength="54.3" lengthAdjust="spacingAndGlyphs" stroke="#cc6848" stroke-width="0.22" >1.618(0.69803)</text>
<text x="318.6" y="227.6" fill="#3f63d2" font-size="8.9" text-anchor="start" font-weight="normal" textLength="54.3" lengthAdjust="spacingAndGlyphs" stroke="#3f63d2" stroke-width="0.22" >1.236(0.69385)</text>
<text x="318.6" y="267.7" fill="#33353c" font-size="8.9" text-anchor="start" font-weight="normal" textLength="54.3" lengthAdjust="spacingAndGlyphs" stroke="#33353c" stroke-width="0.1" >0.618(0.68708)</text>
<text x="5.8" y="14.0" fill="#50535e" font-size="8.2" text-anchor="start" font-weight="normal" textLength="18.1" lengthAdjust="spacingAndGlyphs" stroke="#50535e" stroke-width="0.22" >EMA</text>
<text x="473.3" y="14.0" fill="#50535e" font-size="8.2" text-anchor="start" font-weight="normal" textLength="18.1" lengthAdjust="spacingAndGlyphs" stroke="#50535e" stroke-width="0.22" >EMA</text>
<text x="5.8" y="25.4" fill="#50535e" font-size="8.2" text-anchor="start" font-weight="normal" textLength="18.1" lengthAdjust="spacingAndGlyphs" stroke="#50535e" stroke-width="0.22" >EMA</text>
<text x="473.3" y="25.4" fill="#50535e" font-size="8.2" text-anchor="start" font-weight="normal" textLength="18.1" lengthAdjust="spacingAndGlyphs" stroke="#50535e" stroke-width="0.22" >EMA</text>
<text x="5.8" y="36.8" fill="#50535e" font-size="8.2" text-anchor="start" font-weight="normal" textLength="18.1" lengthAdjust="spacingAndGlyphs" stroke="#50535e" stroke-width="0.22" >EMA</text>
<text x="473.3" y="36.8" fill="#50535e" font-size="8.2" text-anchor="start" font-weight="normal" textLength="18.1" lengthAdjust="spacingAndGlyphs" stroke="#50535e" stroke-width="0.22" >EMA</text>
<text x="5.8" y="48.1" fill="#50535e" font-size="8.2" text-anchor="start" font-weight="normal" textLength="18.1" lengthAdjust="spacingAndGlyphs" stroke="#50535e" stroke-width="0.22" >EMA</text>
<text x="473.3" y="48.1" fill="#50535e" font-size="8.2" text-anchor="start" font-weight="normal" textLength="18.1" lengthAdjust="spacingAndGlyphs" stroke="#50535e" stroke-width="0.22" >EMA</text>
<line x1="424" y1="0" x2="424" y2="550" stroke="#787b86" stroke-width="1.6" />
<line x1="0" y1="531.4" x2="465" y2="531.4" stroke="#6a6d78" stroke-width="1" />
<line x1="424" y1="7.3" x2="427" y2="7.3" stroke="#6a6d78" stroke-width="1" />
<text x="429.7" y="10.3" fill="#62656f" font-size="8.9" text-anchor="start" font-weight="normal" textLength="28.5" lengthAdjust="spacingAndGlyphs" stroke="#62656f" stroke-width="0.32" >0.73000</text>
<line x1="424" y1="37.300000000000026" x2="427" y2="37.300000000000026" stroke="#6a6d78" stroke-width="1" />
<text x="429.7" y="40.300000000000026" fill="#62656f" font-size="8.9" text-anchor="start" font-weight="normal" textLength="28.5" lengthAdjust="spacingAndGlyphs" stroke="#62656f" stroke-width="0.32" >0.72500</text>
<line x1="424" y1="67.30000000000005" x2="427" y2="67.30000000000005" stroke="#6a6d78" stroke-width="1" />
<text x="429.7" y="70.30000000000005" fill="#62656f" font-size="8.9" text-anchor="start" font-weight="normal" textLength="28.5" lengthAdjust="spacingAndGlyphs" stroke="#62656f" stroke-width="0.32" >0.72000</text>
<line x1="424" y1="97.30000000000008" x2="427" y2="97.30000000000008" stroke="#6a6d78" stroke-width="1" />
<text x="429.7" y="100.30000000000008" fill="#62656f" font-size="8.9" text-anchor="start" font-weight="normal" textLength="28.5" lengthAdjust="spacingAndGlyphs" stroke="#62656f" stroke-width="0.32" >0.71500</text>
<line x1="424" y1="127.30000000000011" x2="427" y2="127.30000000000011" stroke="#6a6d78" stroke-width="1" />
<text x="429.7" y="130.30000000000013" fill="#62656f" font-size="8.9" text-anchor="start" font-weight="normal" textLength="28.5" lengthAdjust="spacingAndGlyphs" stroke="#62656f" stroke-width="0.32" >0.71000</text>
<line x1="424" y1="157.30000000000015" x2="427" y2="157.30000000000015" stroke="#6a6d78" stroke-width="1" />
<text x="429.7" y="160.30000000000015" fill="#62656f" font-size="8.9" text-anchor="start" font-weight="normal" textLength="28.5" lengthAdjust="spacingAndGlyphs" stroke="#62656f" stroke-width="0.32" >0.70500</text>
<line x1="424" y1="187.30000000000018" x2="427" y2="187.30000000000018" stroke="#6a6d78" stroke-width="1" />
<text x="429.7" y="190.30000000000018" fill="#62656f" font-size="8.9" text-anchor="start" font-weight="normal" textLength="28.5" lengthAdjust="spacingAndGlyphs" stroke="#62656f" stroke-width="0.32" >0.70000</text>
<line x1="424" y1="217.3000000000002" x2="427" y2="217.3000000000002" stroke="#6a6d78" stroke-width="1" />
<text x="429.7" y="220.3000000000002" fill="#62656f" font-size="8.9" text-anchor="start" font-weight="normal" textLength="28.5" lengthAdjust="spacingAndGlyphs" stroke="#62656f" stroke-width="0.32" >0.69500</text>
<line x1="424" y1="247.30000000000024" x2="427" y2="247.30000000000024" stroke="#6a6d78" stroke-width="1" />
<text x="429.7" y="250.30000000000024" fill="#62656f" font-size="8.9" text-anchor="start" font-weight="normal" textLength="28.5" lengthAdjust="spacingAndGlyphs" stroke="#62656f" stroke-width="0.32" >0.69000</text>
<line x1="424" y1="277.30000000000024" x2="427" y2="277.30000000000024" stroke="#6a6d78" stroke-width="1" />
<text x="429.7" y="280.30000000000024" fill="#62656f" font-size="8.9" text-anchor="start" font-weight="normal" textLength="28.5" lengthAdjust="spacingAndGlyphs" stroke="#62656f" stroke-width="0.32" >0.68500</text>
<line x1="424" y1="307.3000000000003" x2="427" y2="307.3000000000003" stroke="#6a6d78" stroke-width="1" />
<text x="429.7" y="310.3000000000003" fill="#62656f" font-size="8.9" text-anchor="start" font-weight="normal" textLength="28.5" lengthAdjust="spacingAndGlyphs" stroke="#62656f" stroke-width="0.32" >0.68000</text>
<line x1="424" y1="337.3000000000003" x2="427" y2="337.3000000000003" stroke="#6a6d78" stroke-width="1" />
<text x="429.7" y="340.3000000000003" fill="#62656f" font-size="8.9" text-anchor="start" font-weight="normal" textLength="28.5" lengthAdjust="spacingAndGlyphs" stroke="#62656f" stroke-width="0.32" >0.67500</text>
<line x1="424" y1="367.30000000000035" x2="427" y2="367.30000000000035" stroke="#6a6d78" stroke-width="1" />
<text x="429.7" y="370.30000000000035" fill="#62656f" font-size="8.9" text-anchor="start" font-weight="normal" textLength="28.5" lengthAdjust="spacingAndGlyphs" stroke="#62656f" stroke-width="0.32" >0.67000</text>
<line x1="424" y1="397.30000000000035" x2="427" y2="397.30000000000035" stroke="#6a6d78" stroke-width="1" />
<text x="429.7" y="400.30000000000035" fill="#62656f" font-size="8.9" text-anchor="start" font-weight="normal" textLength="28.5" lengthAdjust="spacingAndGlyphs" stroke="#62656f" stroke-width="0.32" >0.66500</text>
<line x1="424" y1="427.3000000000004" x2="427" y2="427.3000000000004" stroke="#6a6d78" stroke-width="1" />
<text x="429.7" y="430.3000000000004" fill="#62656f" font-size="8.9" text-anchor="start" font-weight="normal" textLength="28.5" lengthAdjust="spacingAndGlyphs" stroke="#62656f" stroke-width="0.32" >0.66000</text>
<line x1="424" y1="457.3000000000004" x2="427" y2="457.3000000000004" stroke="#6a6d78" stroke-width="1" />
<text x="429.7" y="460.3000000000004" fill="#62656f" font-size="8.9" text-anchor="start" font-weight="normal" textLength="28.5" lengthAdjust="spacingAndGlyphs" stroke="#62656f" stroke-width="0.32" >0.65500</text>
<line x1="424" y1="487.30000000000047" x2="427" y2="487.30000000000047" stroke="#6a6d78" stroke-width="1" />
<text x="429.7" y="490.30000000000047" fill="#62656f" font-size="8.9" text-anchor="start" font-weight="normal" textLength="28.5" lengthAdjust="spacingAndGlyphs" stroke="#62656f" stroke-width="0.32" >0.65000</text>
<line x1="424" y1="517.3000000000004" x2="427" y2="517.3000000000004" stroke="#6a6d78" stroke-width="1" />
<text x="429.7" y="520.3000000000004" fill="#62656f" font-size="8.9" text-anchor="start" font-weight="normal" textLength="28.5" lengthAdjust="spacingAndGlyphs" stroke="#62656f" stroke-width="0.32" >0.64500</text>
<rect x="423.5" y="257.2" width="41" height="11.6" fill="#eb5250"/>
<line x1="423.5" y1="263.2" x2="426" y2="263.2" stroke="#ffffff" stroke-width="1" />
<text x="429.7" y="266.2" fill="#ffffff" font-size="8.7" text-anchor="start" font-weight="bold" textLength="28.2" lengthAdjust="spacingAndGlyphs" >0.68735</text>
<line x1="22.4" y1="531.4" x2="22.4" y2="533.6" stroke="#6a6d78" stroke-width="1" />
<text x="22.4" y="544.6" fill="#5a5d68" font-size="8.2" text-anchor="middle" font-weight="normal" stroke="#5a5d68" stroke-width="0.25" >Jul</text>
<line x1="128" y1="531.4" x2="128" y2="533.6" stroke="#6a6d78" stroke-width="1" />
<text x="128" y="544.6" fill="#5a5d68" font-size="8.2" text-anchor="middle" font-weight="normal" stroke="#5a5d68" stroke-width="0.25" >Sep</text>
<line x1="231.3" y1="531.4" x2="231.3" y2="533.6" stroke="#6a6d78" stroke-width="1" />
<text x="231.3" y="544.6" fill="#5a5d68" font-size="8.2" text-anchor="middle" font-weight="normal" stroke="#5a5d68" stroke-width="0.25" >Nov</text>
<line x1="332.2" y1="531.4" x2="332.2" y2="533.6" stroke="#6a6d78" stroke-width="1" />
<text x="323.0" y="544.7" fill="#50535e" font-size="9.5" text-anchor="start" font-weight="normal" textLength="18.4" lengthAdjust="spacingAndGlyphs" stroke="#50535e" stroke-width="0.5" >2020</text>
<rect x="464.4" y="0" width="3.6" height="550" fill="#0c0f1a"/>
<g clip-path="url(#cr)">
<line x1="682.7" y1="250.6" x2="849" y2="250.6" stroke="#8a8d94" stroke-width="1.0" />
<line x1="682" y1="300.4" x2="849" y2="300.4" stroke="#2a9488" stroke-width="1.0" />
<line x1="682" y1="331.5" x2="849" y2="331.5" stroke="#3f82d6" stroke-width="1.0" />
<line x1="682" y1="350.6" x2="849" y2="350.6" stroke="#2b2d34" stroke-width="1.0" />
<line x1="682" y1="381.4" x2="849" y2="381.4" stroke="#83868d" stroke-width="1.0" />
<line x1="682" y1="411.5" x2="849" y2="411.5" stroke="#2b2d34" stroke-width="1.2" />
<line x1="682" y1="460.5" x2="849" y2="460.5" stroke="#2b2d34" stroke-width="1.2" />
<path d="M469.8 27.5 C475.4 29.1 491.6 33.2 503.5 37.0 C515.4 40.8 526.4 45.0 541.0 50.0 C555.6 55.0 574.3 61.4 591.0 67.0 C607.7 72.6 628.5 79.7 641.0 83.8 C653.5 87.9 657.8 89.1 666.0 91.8 C674.2 94.5 681.8 96.8 690.1 100.0 C698.4 103.2 706.0 106.9 715.6 110.7 C725.2 114.5 738.0 119.2 747.8 122.8 C757.6 126.4 765.5 128.9 774.6 132.2 C783.7 135.5 797.6 140.7 802.2 142.4" fill="none" stroke="#c8906e" stroke-width="1.2" stroke-linejoin="round" stroke-linecap="round" />
<path d="M469.8 102.5 C473.3 103.5 483.3 105.9 491.0 108.8 C498.7 111.7 507.7 116.7 516.0 120.0 C524.3 123.3 533.7 126.3 541.0 128.8 C548.3 131.3 552.4 132.1 560.0 134.9 C567.6 137.7 578.8 142.8 586.8 145.6 C594.8 148.4 601.6 149.0 608.3 151.5 C615.0 154.0 619.5 156.8 627.1 160.4 C634.7 164.0 645.0 169.4 653.9 173.0 C662.8 176.6 674.0 179.3 680.7 181.8 C687.4 184.3 689.2 185.3 694.1 188.0 C699.0 190.7 703.9 194.7 710.2 197.9 C716.5 201.1 723.2 203.5 731.7 207.3 C740.2 211.1 753.2 217.6 761.2 220.7 C769.2 223.8 773.2 223.6 780.0 226.1 C786.8 228.6 798.5 233.9 802.2 235.5" fill="none" stroke="#b57fc2" stroke-width="1.15" stroke-linejoin="round" stroke-linecap="round" />
<path d="M469.8 138.0 C470.6 138.3 471.3 138.8 474.8 140.0 C478.3 141.2 485.4 142.3 491.0 145.0 C496.6 147.7 503.5 152.9 508.5 156.0 C513.5 159.1 515.6 161.7 521.0 163.8 C526.4 165.9 534.5 166.5 541.0 168.8 C547.5 171.1 555.8 175.8 560.0 177.8 C564.2 179.8 561.5 179.0 566.0 181.0 C570.5 183.0 579.8 187.3 586.8 189.9 C593.8 192.5 602.0 194.2 608.3 196.6 C614.6 199.0 619.6 201.3 624.4 204.1 C629.1 206.9 632.3 210.5 636.8 213.5 C641.3 216.5 647.2 219.9 651.2 222.0 C655.2 224.1 655.6 224.2 660.5 226.0 C665.4 227.8 676.4 231.3 680.7 232.8 C685.0 234.3 683.4 233.4 686.2 235.0 C689.0 236.6 693.6 239.3 697.4 242.1 C701.2 244.8 705.3 248.7 709.2 251.5 C713.1 254.3 717.1 256.8 721.0 259.2 C724.9 261.6 728.9 263.5 732.8 265.7 C736.7 267.9 740.6 270.2 744.6 272.2 C748.6 274.2 752.0 275.9 756.5 277.5 C761.0 279.1 767.7 280.4 771.8 281.6 C775.9 282.9 777.8 283.8 781.1 285.0 C784.4 286.2 789.0 288.1 791.7 289.1 C794.5 290.1 795.8 290.5 797.6 290.9 C799.4 291.3 801.6 291.4 802.4 291.5" fill="none" stroke="#4a63d6" stroke-width="1.15" stroke-linejoin="round" stroke-linecap="round" />
<path d="M468.0 171.5 C469.2 172.1 472.8 174.2 475.4 174.8 C478.0 175.5 480.3 174.8 483.7 175.4 C487.1 176.0 492.1 177.2 495.5 178.4 C498.9 179.6 500.9 180.2 503.8 182.5 C506.8 184.8 510.3 189.6 513.2 192.0 C516.2 194.4 518.4 195.4 521.5 196.7 C524.6 198.0 528.6 198.8 532.1 199.6 C535.6 200.4 539.2 200.5 542.7 201.5 C546.2 202.5 549.5 203.9 553.4 205.6 C557.3 207.3 562.3 209.5 566.4 211.5 C570.5 213.5 573.9 215.9 577.8 217.7 C581.7 219.5 585.9 221.4 589.6 222.4 C593.3 223.4 597.2 223.2 600.2 223.6 C603.2 224.0 605.1 224.2 607.3 224.8 C609.5 225.4 610.2 225.8 613.2 227.2 C616.2 228.6 621.1 230.3 625.0 233.1 C628.9 235.8 633.2 241.1 636.8 243.7 C640.3 246.2 643.3 246.5 646.3 248.4 C649.2 250.3 651.1 253.1 654.5 254.9 C657.9 256.7 662.9 258.1 666.4 259.2 C669.9 260.3 673.0 261.2 675.8 261.6 C678.6 262.0 680.9 261.0 683.3 261.6 C685.7 262.2 687.9 263.2 690.3 265.1 C692.6 267.0 694.2 269.6 697.4 272.8 C700.5 276.1 705.9 281.5 709.2 284.6 C712.6 287.8 714.5 290.0 717.5 291.7 C720.5 293.4 724.1 293.2 727.0 294.6 C729.9 296.0 732.2 297.9 735.1 299.8 C738.0 301.8 741.5 304.6 744.5 306.3 C747.5 308.0 749.8 308.8 752.8 309.8 C755.8 310.8 759.2 312.0 762.2 312.2 C765.2 312.4 767.5 310.6 770.5 311.0 C773.5 311.4 776.6 313.2 780.0 314.5 C783.4 315.8 787.3 317.8 790.6 318.6 C793.9 319.4 798.4 319.1 800.0 319.2" fill="none" stroke="#ee7d5a" stroke-width="1.0" stroke-linejoin="round" stroke-linecap="round" />
<line x1="498.5" y1="151.8" x2="837" y2="335.3" stroke="#4a63d6" stroke-width="1.1" />
<line x1="745.5" y1="382" x2="860" y2="320.5" stroke="#6586da" stroke-width="0.9" />
<line x1="796.5" y1="352" x2="826" y2="300" stroke="#4a4c55" stroke-width="0.8" />
<line x1="470.1" y1="194.9" x2="470.1" y2="261.5" stroke="#383b43" stroke-width="1.15" /><rect x="467.90" y="214.5" width="4.4" height="33.0" fill="#26a69a" stroke="#2b2e36" stroke-width="0.8"/>
<line x1="475.4" y1="180.7" x2="475.4" y2="219.8" stroke="#383b43" stroke-width="1.15" /><rect x="473.20" y="205.6" width="4.4" height="11.2" fill="#26a69a" stroke="#2b2e36" stroke-width="0.8"/>
<line x1="481.3" y1="169.5" x2="481.3" y2="225.1" stroke="#383b43" stroke-width="1.15" /><rect x="479.10" y="172.5" width="4.4" height="34.9" fill="#26a69a" stroke="#2b2e36" stroke-width="0.8"/>
<line x1="487" y1="173.6" x2="487" y2="212.7" stroke="#383b43" stroke-width="1.15" /><rect x="484.80" y="179.6" width="4.4" height="24.3" fill="#ef5350" stroke="#2b2e36" stroke-width="0.8"/>
<line x1="493.2" y1="167.7" x2="493.2" y2="213.9" stroke="#383b43" stroke-width="1.15" /><rect x="491.00" y="179.6" width="4.4" height="25.8" fill="#26a69a" stroke="#2b2e36" stroke-width="0.8"/>
<line x1="498.5" y1="151.8" x2="498.5" y2="216.3" stroke="#383b43" stroke-width="1.15" /><rect x="496.30" y="157.5" width="4.4" height="56.7" fill="#ef5350" stroke="#2b2e36" stroke-width="0.8"/>
<line x1="504.4" y1="198.4" x2="504.4" y2="229.8" stroke="#383b43" stroke-width="1.15" /><rect x="502.20" y="218.3" width="4.4" height="3.3" fill="#ef5350" stroke="#2b2e36" stroke-width="0.8"/>
<line x1="510.3" y1="212.7" x2="510.3" y2="270" stroke="#383b43" stroke-width="1.15" /><rect x="508.10" y="223.3" width="4.4" height="45.0" fill="#ef5350" stroke="#2b2e36" stroke-width="0.8"/>
<line x1="516.2" y1="252.7" x2="516.2" y2="272.7" stroke="#383b43" stroke-width="1.15" /><rect x="514.00" y="265.7" width="4.4" height="1.2" fill="#1e2026" stroke="#2b2e36" stroke-width="0.8"/>
<line x1="521.6" y1="237.5" x2="521.6" y2="359.3" stroke="#383b43" stroke-width="1.15" /><rect x="519.40" y="241.3" width="4.4" height="22.6" fill="#26a69a" stroke="#2b2e36" stroke-width="0.8"/>
<line x1="527.2" y1="202.7" x2="527.2" y2="243.4" stroke="#383b43" stroke-width="1.15" /><rect x="525.00" y="209.5" width="4.4" height="31.5" fill="#26a69a" stroke="#2b2e36" stroke-width="0.8"/>
<line x1="533.3" y1="205.4" x2="533.3" y2="231" stroke="#383b43" stroke-width="1.15" /><rect x="531.10" y="210.3" width="4.4" height="16.8" fill="#ef5350" stroke="#2b2e36" stroke-width="0.8"/>
<line x1="538.6" y1="218.6" x2="538.6" y2="253.6" stroke="#383b43" stroke-width="1.15" /><rect x="536.40" y="221.2" width="4.4" height="4.5" fill="#26a69a" stroke="#2b2e36" stroke-width="0.8"/>
<line x1="544.7" y1="183" x2="544.7" y2="233.4" stroke="#383b43" stroke-width="1.15" /><rect x="542.50" y="198.8" width="4.4" height="22.8" fill="#26a69a" stroke="#2b2e36" stroke-width="0.8"/>
<line x1="550.2" y1="193" x2="550.2" y2="258.7" stroke="#383b43" stroke-width="1.15" /><rect x="548.00" y="199.7" width="4.4" height="50.7" fill="#ef5350" stroke="#2b2e36" stroke-width="0.8"/>
<line x1="556.3" y1="230.4" x2="556.3" y2="260.3" stroke="#383b43" stroke-width="1.15" /><rect x="554.10" y="233.4" width="4.4" height="17.0" fill="#26a69a" stroke="#2b2e36" stroke-width="0.8"/>
<line x1="561.6" y1="211.5" x2="561.6" y2="255.4" stroke="#383b43" stroke-width="1.15" /><rect x="559.40" y="235.5" width="4.4" height="2.2" fill="#ef5350" stroke="#2b2e36" stroke-width="0.8"/>
<line x1="567.3" y1="214" x2="567.3" y2="255.3" stroke="#383b43" stroke-width="1.15" /><rect x="565.10" y="234.7" width="4.4" height="18.5" fill="#ef5350" stroke="#2b2e36" stroke-width="0.8"/>
<line x1="573.4" y1="241" x2="573.4" y2="276.7" stroke="#383b43" stroke-width="1.15" /><rect x="571.20" y="243.4" width="4.4" height="20.8" fill="#ef5350" stroke="#2b2e36" stroke-width="0.8"/>
<line x1="578.8" y1="246.6" x2="578.8" y2="270" stroke="#383b43" stroke-width="1.15" /><rect x="576.60" y="251.3" width="4.4" height="17.0" fill="#26a69a" stroke="#2b2e36" stroke-width="0.8"/>
<line x1="584.9" y1="223.6" x2="584.9" y2="259.5" stroke="#383b43" stroke-width="1.15" /><rect x="582.70" y="250.2" width="4.4" height="2.3" fill="#ef5350" stroke="#2b2e36" stroke-width="0.8"/>
<line x1="590.4" y1="230.1" x2="590.4" y2="257.5" stroke="#383b43" stroke-width="1.15" /><rect x="588.20" y="247.5" width="4.4" height="5.6" fill="#26a69a" stroke="#2b2e36" stroke-width="0.8"/>
<line x1="596.5" y1="235.4" x2="596.5" y2="260.7" stroke="#383b43" stroke-width="1.15" /><rect x="594.30" y="239.6" width="4.4" height="5.0" fill="#ef5350" stroke="#2b2e36" stroke-width="0.8"/>
<line x1="602" y1="215.9" x2="602" y2="250.2" stroke="#383b43" stroke-width="1.15" /><rect x="599.80" y="223.0" width="4.4" height="22.5" fill="#26a69a" stroke="#2b2e36" stroke-width="0.8"/>
<line x1="607.9" y1="211.8" x2="607.9" y2="233.6" stroke="#383b43" stroke-width="1.15" /><rect x="605.70" y="221.6" width="4.4" height="9.1" fill="#ef5350" stroke="#2b2e36" stroke-width="0.8"/>
<line x1="613.5" y1="228" x2="613.5" y2="281.3" stroke="#383b43" stroke-width="1.15" /><rect x="611.30" y="229.9" width="4.4" height="36.1" fill="#ef5350" stroke="#2b2e36" stroke-width="0.8"/>
<line x1="618.9" y1="255.1" x2="618.9" y2="282.5" stroke="#383b43" stroke-width="1.15" /><rect x="616.70" y="266.5" width="4.4" height="4.8" fill="#ef5350" stroke="#2b2e36" stroke-width="0.8"/>
<line x1="624.8" y1="261.9" x2="624.8" y2="289.6" stroke="#383b43" stroke-width="1.15" /><rect x="622.60" y="278.3" width="4.4" height="9.2" fill="#26a69a" stroke="#2b2e36" stroke-width="0.8"/>
<line x1="630.3" y1="277.7" x2="630.3" y2="322" stroke="#383b43" stroke-width="1.15" /><rect x="628.10" y="280.5" width="4.4" height="40.0" fill="#ef5350" stroke="#2b2e36" stroke-width="0.8"/>
<line x1="636.5" y1="298.3" x2="636.5" y2="320.7" stroke="#383b43" stroke-width="1.15" /><rect x="634.30" y="301.9" width="4.4" height="3.8" fill="#26a69a" stroke="#2b2e36" stroke-width="0.8"/>
<line x1="641.9" y1="295.4" x2="641.9" y2="309.8" stroke="#383b43" stroke-width="1.15" /><rect x="639.70" y="298.2" width="4.4" height="1.2" fill="#1e2026" stroke="#2b2e36" stroke-width="0.8"/>
<line x1="648" y1="270.7" x2="648" y2="303" stroke="#383b43" stroke-width="1.15" /><rect x="645.80" y="278.3" width="4.4" height="22.8" fill="#26a69a" stroke="#2b2e36" stroke-width="0.8"/>
<line x1="653.4" y1="275.4" x2="653.4" y2="322.5" stroke="#383b43" stroke-width="1.15" /><rect x="651.20" y="276.6" width="4.4" height="42.3" fill="#ef5350" stroke="#2b2e36" stroke-width="0.8"/>
<line x1="659.5" y1="297.7" x2="659.5" y2="331.9" stroke="#383b43" stroke-width="1.15" /><rect x="657.30" y="301.7" width="4.4" height="17.0" fill="#26a69a" stroke="#2b2e36" stroke-width="0.8"/>
<line x1="665.3" y1="269" x2="665.3" y2="301" stroke="#383b43" stroke-width="1.15" /><rect x="663.10" y="271.0" width="4.4" height="28.7" fill="#26a69a" stroke="#2b2e36" stroke-width="0.8"/>
<line x1="670.5" y1="262.5" x2="670.5" y2="291.5" stroke="#383b43" stroke-width="1.15" /><rect x="668.30" y="267.6" width="4.4" height="17.0" fill="#ef5350" stroke="#2b2e36" stroke-width="0.8"/>
<line x1="676.8" y1="269.2" x2="676.8" y2="306.5" stroke="#383b43" stroke-width="1.15" /><rect x="674.60" y="272.3" width="4.4" height="13.3" fill="#26a69a" stroke="#2b2e36" stroke-width="0.8"/>
<line x1="682.3" y1="250.9" x2="682.3" y2="278.7" stroke="#383b43" stroke-width="1.15" /><rect x="680.10" y="265.5" width="4.4" height="7.9" fill="#26a69a" stroke="#2b2e36" stroke-width="0.8"/>
<line x1="688.2" y1="259.2" x2="688.2" y2="308.9" stroke="#383b43" stroke-width="1.15" /><rect x="686.00" y="265.5" width="4.4" height="41.0" fill="#ef5350" stroke="#2b2e36" stroke-width="0.8"/>
<line x1="693.8" y1="304.2" x2="693.8" y2="353.7" stroke="#383b43" stroke-width="1.15" /><rect x="691.60" y="307.7" width="4.4" height="34.3" fill="#ef5350" stroke="#2b2e36" stroke-width="0.8"/>
<line x1="699.8" y1="334.5" x2="699.8" y2="381" stroke="#383b43" stroke-width="1.15" /><rect x="697.60" y="344.4" width="4.4" height="1.5" fill="#1e2026" stroke="#2b2e36" stroke-width="0.8"/>
<line x1="705.2" y1="335" x2="705.2" y2="362.5" stroke="#383b43" stroke-width="1.15" /><rect x="703.00" y="347.6" width="4.4" height="2.0" fill="#1e2026" stroke="#2b2e36" stroke-width="0.8"/>
<line x1="710.8" y1="341" x2="710.8" y2="362.5" stroke="#383b43" stroke-width="1.15" /><rect x="708.60" y="349.0" width="4.4" height="8.7" fill="#ef5350" stroke="#2b2e36" stroke-width="0.8"/>
<line x1="716.7" y1="345.2" x2="716.7" y2="377.2" stroke="#383b43" stroke-width="1.15" /><rect x="714.50" y="361.6" width="4.4" height="1.2" fill="#1e2026" stroke="#2b2e36" stroke-width="0.8"/>
<line x1="722.3" y1="322.2" x2="722.3" y2="377.2" stroke="#383b43" stroke-width="1.15" /><rect x="720.10" y="327.3" width="4.4" height="38.1" fill="#26a69a" stroke="#2b2e36" stroke-width="0.8"/>
<line x1="728.3" y1="311" x2="728.3" y2="330" stroke="#383b43" stroke-width="1.15" /><rect x="726.10" y="316.3" width="4.4" height="12.4" fill="#26a69a" stroke="#2b2e36" stroke-width="0.8"/>
<line x1="733.8" y1="314.5" x2="733.8" y2="354.8" stroke="#383b43" stroke-width="1.15" /><rect x="731.60" y="322.2" width="4.4" height="31.4" fill="#ef5350" stroke="#2b2e36" stroke-width="0.8"/>
<line x1="739.8" y1="339.4" x2="739.8" y2="361.3" stroke="#383b43" stroke-width="1.15" /><rect x="737.60" y="351.0" width="4.4" height="2.4" fill="#ef5350" stroke="#2b2e36" stroke-width="0.8"/>
<line x1="745.5" y1="348.9" x2="745.5" y2="382.5" stroke="#383b43" stroke-width="1.15" /><rect x="743.30" y="351.8" width="4.4" height="2.8" fill="#26a69a" stroke="#2b2e36" stroke-width="0.8"/>
<line x1="751.3" y1="338.2" x2="751.3" y2="370.7" stroke="#383b43" stroke-width="1.15" /><rect x="749.10" y="345.1" width="4.4" height="10.3" fill="#26a69a" stroke="#2b2e36" stroke-width="0.8"/>
<line x1="756.9" y1="322" x2="756.9" y2="365.4" stroke="#383b43" stroke-width="1.15" /><rect x="754.70" y="323.4" width="4.4" height="22.0" fill="#26a69a" stroke="#2b2e36" stroke-width="0.8"/>
<line x1="762.4" y1="315.1" x2="762.4" y2="338.8" stroke="#383b43" stroke-width="1.15" /><rect x="760.20" y="327.5" width="4.4" height="7.0" fill="#ef5350" stroke="#2b2e36" stroke-width="0.8"/>
<line x1="768.4" y1="301" x2="768.4" y2="338.2" stroke="#383b43" stroke-width="1.15" /><rect x="766.20" y="306.0" width="4.4" height="28.5" fill="#26a69a" stroke="#2b2e36" stroke-width="0.8"/>
<line x1="774" y1="301" x2="774" y2="325.7" stroke="#383b43" stroke-width="1.15" /><rect x="771.80" y="305.3" width="4.4" height="18.1" fill="#ef5350" stroke="#2b2e36" stroke-width="0.8"/>
<line x1="779.9" y1="320.4" x2="779.9" y2="351.8" stroke="#383b43" stroke-width="1.15" /><rect x="777.70" y="324.0" width="4.4" height="12.0" fill="#ef5350" stroke="#2b2e36" stroke-width="0.8"/>
<line x1="785.5" y1="330.5" x2="785.5" y2="349" stroke="#383b43" stroke-width="1.15" /><rect x="783.30" y="337.6" width="4.4" height="9.8" fill="#ef5350" stroke="#2b2e36" stroke-width="0.8"/>
<line x1="791.5" y1="341.5" x2="791.5" y2="356.6" stroke="#383b43" stroke-width="1.15" /><rect x="789.30" y="345.1" width="4.4" height="9.1" fill="#ef5350" stroke="#2b2e36" stroke-width="0.8"/>
<line x1="797.1" y1="322.2" x2="797.1" y2="353" stroke="#383b43" stroke-width="1.15" /><rect x="794.90" y="328.7" width="4.4" height="22.6" fill="#26a69a" stroke="#2b2e36" stroke-width="0.8"/>
<line x1="802.4" y1="296.8" x2="802.4" y2="341.1" stroke="#383b43" stroke-width="1.15" /><rect x="800.20" y="318.1" width="4.4" height="13.5" fill="#26a69a" stroke="#2b2e36" stroke-width="0.8"/>
<line x1="468" y1="318.1" x2="892" y2="318.1" stroke="#2aa79b" stroke-width="0.9" stroke-dasharray="1.1 1.1" stroke-opacity="0.9"/>
<rect x="768.4" y="303.05" width="80.4" height="2.6" fill="#d3c6dc" fill-opacity="0.8" stroke="#3a3c44" stroke-width="0.85"/>
</g>
<text x="852.0" y="248.7" fill="#9497a0" font-size="8.9" text-anchor="start" font-weight="normal" textLength="24.241249999999997" lengthAdjust="spacingAndGlyphs" stroke="#9497a0" stroke-width="0.22" >100.00</text>
<text x="876.3412500000001" y="248.7" fill="#9497a0" font-size="8.9" text-anchor="start" font-weight="normal" textLength="4.8175" lengthAdjust="spacingAndGlyphs" stroke="#9497a0" stroke-width="0.22" >%</text>
<text x="852.0" y="298.8" fill="#2a9488" font-size="8.9" text-anchor="start" font-weight="normal" textLength="19.987499999999997" lengthAdjust="spacingAndGlyphs" stroke="#2a9488" stroke-width="0.22" >61.80</text>
<text x="872.0875" y="298.8" fill="#2a9488" font-size="8.9" text-anchor="start" font-weight="normal" textLength="4.8175" lengthAdjust="spacingAndGlyphs" stroke="#2a9488" stroke-width="0.22" >%</text>
<text x="852.0" y="330.0" fill="#3f82d6" font-size="8.9" text-anchor="start" font-weight="normal" textLength="19.987499999999997" lengthAdjust="spacingAndGlyphs" stroke="#3f82d6" stroke-width="0.22" >38.20</text>
<text x="872.0875" y="330.0" fill="#3f82d6" font-size="8.9" text-anchor="start" font-weight="normal" textLength="4.8175" lengthAdjust="spacingAndGlyphs" stroke="#3f82d6" stroke-width="0.22" >%</text>
<text x="852.0" y="348.7" fill="#2b2d34" font-size="8.9" text-anchor="start" font-weight="normal" textLength="19.987499999999997" lengthAdjust="spacingAndGlyphs" stroke="#2b2d34" stroke-width="0.1" >23.60</text>
<text x="872.0875" y="348.7" fill="#2b2d34" font-size="8.9" text-anchor="start" font-weight="normal" textLength="4.8175" lengthAdjust="spacingAndGlyphs" stroke="#2b2d34" stroke-width="0.1" >%</text>
<text x="852.0" y="379.7" fill="#9497a0" font-size="8.9" text-anchor="start" font-weight="normal" textLength="15.733749999999999" lengthAdjust="spacingAndGlyphs" stroke="#9497a0" stroke-width="0.22" >0.00</text>
<text x="867.83375" y="379.7" fill="#9497a0" font-size="8.9" text-anchor="start" font-weight="normal" textLength="4.8175" lengthAdjust="spacingAndGlyphs" stroke="#9497a0" stroke-width="0.22" >%</text>
<line x1="851.8" y1="407.65" x2="854.9" y2="407.65" stroke="#2b2d34" stroke-width="1.0" />
<text x="855.7" y="410.4" fill="#2b2d34" font-size="8.9" text-anchor="start" font-weight="normal" textLength="19.987499999999997" lengthAdjust="spacingAndGlyphs" stroke="#2b2d34" stroke-width="0.1" >23.60</text>
<text x="875.7875" y="410.4" fill="#2b2d34" font-size="8.9" text-anchor="start" font-weight="normal" textLength="4.8175" lengthAdjust="spacingAndGlyphs" stroke="#2b2d34" stroke-width="0.1" >%</text>
<line x1="851.8" y1="456.65" x2="854.9" y2="456.65" stroke="#2b2d34" stroke-width="1.0" />
<text x="855.7" y="459.4" fill="#2b2d34" font-size="8.9" text-anchor="start" font-weight="normal" textLength="19.987499999999997" lengthAdjust="spacingAndGlyphs" stroke="#2b2d34" stroke-width="0.1" >61.00</text>
<text x="875.7875" y="459.4" fill="#2b2d34" font-size="8.9" text-anchor="start" font-weight="normal" textLength="4.8175" lengthAdjust="spacingAndGlyphs" stroke="#2b2d34" stroke-width="0.1" >%</text>
<line x1="891.7" y1="0" x2="891.7" y2="550" stroke="#787b86" stroke-width="1.6" />
<line x1="468" y1="531.4" x2="932" y2="531.4" stroke="#6a6d78" stroke-width="1" />
<line x1="891.7" y1="22.6" x2="894.7" y2="22.6" stroke="#6a6d78" stroke-width="1" />
<text x="897.6" y="25.6" fill="#62656f" font-size="8.9" text-anchor="start" font-weight="normal" textLength="28.5" lengthAdjust="spacingAndGlyphs" stroke="#62656f" stroke-width="0.32" >0.78000</text>
<line x1="891.7" y1="54.50000000000003" x2="894.7" y2="54.50000000000003" stroke="#6a6d78" stroke-width="1" />
<text x="897.6" y="57.50000000000003" fill="#62656f" font-size="8.9" text-anchor="start" font-weight="normal" textLength="28.5" lengthAdjust="spacingAndGlyphs" stroke="#62656f" stroke-width="0.32" >0.77000</text>
<line x1="891.7" y1="86.40000000000006" x2="894.7" y2="86.40000000000006" stroke="#6a6d78" stroke-width="1" />
<text x="897.6" y="89.40000000000006" fill="#62656f" font-size="8.9" text-anchor="start" font-weight="normal" textLength="28.5" lengthAdjust="spacingAndGlyphs" stroke="#62656f" stroke-width="0.32" >0.76000</text>
<line x1="891.7" y1="118.3000000000001" x2="894.7" y2="118.3000000000001" stroke="#6a6d78" stroke-width="1" />
<text x="897.6" y="121.3000000000001" fill="#62656f" font-size="8.9" text-anchor="start" font-weight="normal" textLength="28.5" lengthAdjust="spacingAndGlyphs" stroke="#62656f" stroke-width="0.32" >0.75000</text>
<line x1="891.7" y1="150.2000000000001" x2="894.7" y2="150.2000000000001" stroke="#6a6d78" stroke-width="1" />
<text x="897.6" y="153.2000000000001" fill="#62656f" font-size="8.9" text-anchor="start" font-weight="normal" textLength="28.5" lengthAdjust="spacingAndGlyphs" stroke="#62656f" stroke-width="0.32" >0.74000</text>
<line x1="891.7" y1="182.10000000000014" x2="894.7" y2="182.10000000000014" stroke="#6a6d78" stroke-width="1" />
<text x="897.6" y="185.10000000000014" fill="#62656f" font-size="8.9" text-anchor="start" font-weight="normal" textLength="28.5" lengthAdjust="spacingAndGlyphs" stroke="#62656f" stroke-width="0.32" >0.73000</text>
<line x1="891.7" y1="214.00000000000017" x2="894.7" y2="214.00000000000017" stroke="#6a6d78" stroke-width="1" />
<text x="897.6" y="217.00000000000017" fill="#62656f" font-size="8.9" text-anchor="start" font-weight="normal" textLength="28.5" lengthAdjust="spacingAndGlyphs" stroke="#62656f" stroke-width="0.32" >0.72000</text>
<line x1="891.7" y1="245.9000000000002" x2="894.7" y2="245.9000000000002" stroke="#6a6d78" stroke-width="1" />
<text x="897.6" y="248.9000000000002" fill="#62656f" font-size="8.9" text-anchor="start" font-weight="normal" textLength="28.5" lengthAdjust="spacingAndGlyphs" stroke="#62656f" stroke-width="0.32" >0.71000</text>
<line x1="891.7" y1="277.80000000000024" x2="894.7" y2="277.80000000000024" stroke="#6a6d78" stroke-width="1" />
<text x="897.6" y="280.80000000000024" fill="#62656f" font-size="8.9" text-anchor="start" font-weight="normal" textLength="28.5" lengthAdjust="spacingAndGlyphs" stroke="#62656f" stroke-width="0.32" >0.70000</text>
<line x1="891.7" y1="309.7000000000003" x2="894.7" y2="309.7000000000003" stroke="#6a6d78" stroke-width="1" />
<text x="897.6" y="312.7000000000003" fill="#62656f" font-size="8.9" text-anchor="start" font-weight="normal" textLength="28.5" lengthAdjust="spacingAndGlyphs" stroke="#62656f" stroke-width="0.32" >0.69000</text>
<line x1="891.7" y1="341.6000000000003" x2="894.7" y2="341.6000000000003" stroke="#6a6d78" stroke-width="1" />
<text x="897.6" y="344.6000000000003" fill="#62656f" font-size="8.9" text-anchor="start" font-weight="normal" textLength="28.5" lengthAdjust="spacingAndGlyphs" stroke="#62656f" stroke-width="0.32" >0.68000</text>
<line x1="891.7" y1="373.50000000000034" x2="894.7" y2="373.50000000000034" stroke="#6a6d78" stroke-width="1" />
<text x="897.6" y="376.50000000000034" fill="#62656f" font-size="8.9" text-anchor="start" font-weight="normal" textLength="28.5" lengthAdjust="spacingAndGlyphs" stroke="#62656f" stroke-width="0.32" >0.67000</text>
<line x1="891.7" y1="405.4000000000004" x2="894.7" y2="405.4000000000004" stroke="#6a6d78" stroke-width="1" />
<text x="897.6" y="408.4000000000004" fill="#62656f" font-size="8.9" text-anchor="start" font-weight="normal" textLength="28.5" lengthAdjust="spacingAndGlyphs" stroke="#62656f" stroke-width="0.32" >0.66000</text>
<line x1="891.7" y1="437.3000000000004" x2="894.7" y2="437.3000000000004" stroke="#6a6d78" stroke-width="1" />
<text x="897.6" y="440.3000000000004" fill="#62656f" font-size="8.9" text-anchor="start" font-weight="normal" textLength="28.5" lengthAdjust="spacingAndGlyphs" stroke="#62656f" stroke-width="0.32" >0.65000</text>
<line x1="891.7" y1="469.20000000000044" x2="894.7" y2="469.20000000000044" stroke="#6a6d78" stroke-width="1" />
<text x="897.6" y="472.20000000000044" fill="#62656f" font-size="8.9" text-anchor="start" font-weight="normal" textLength="28.5" lengthAdjust="spacingAndGlyphs" stroke="#62656f" stroke-width="0.32" >0.64000</text>
<line x1="891.7" y1="501.1000000000004" x2="894.7" y2="501.1000000000004" stroke="#6a6d78" stroke-width="1" />
<text x="897.6" y="504.1000000000004" fill="#62656f" font-size="8.9" text-anchor="start" font-weight="normal" textLength="28.5" lengthAdjust="spacingAndGlyphs" stroke="#62656f" stroke-width="0.32" >0.63000</text>
<rect x="891.2" y="312.2" width="40.8" height="11.2" fill="#26a69a"/>
<line x1="891.2" y1="318.1" x2="893.7" y2="318.1" stroke="#ffffff" stroke-width="1" />
<text x="897.6" y="321.1" fill="#ffffff" font-size="8.7" text-anchor="start" font-weight="bold" textLength="28.2" lengthAdjust="spacingAndGlyphs" >0.68735</text>
<line x1="527.5" y1="531.4" x2="527.5" y2="533.6" stroke="#6a6d78" stroke-width="1" />
<text x="518.3" y="544.7" fill="#50535e" font-size="9.5" text-anchor="start" font-weight="normal" textLength="18.4" lengthAdjust="spacingAndGlyphs" stroke="#50535e" stroke-width="0.5" >2019</text>
<line x1="597.1" y1="531.4" x2="597.1" y2="533.6" stroke="#6a6d78" stroke-width="1" />
<text x="597.1" y="544.6" fill="#5a5d68" font-size="8.2" text-anchor="middle" font-weight="normal" stroke="#5a5d68" stroke-width="0.25" >Apr</text>
<line x1="671.3" y1="531.4" x2="671.3" y2="533.6" stroke="#6a6d78" stroke-width="1" />
<text x="671.3" y="544.6" fill="#5a5d68" font-size="8.2" text-anchor="middle" font-weight="normal" stroke="#5a5d68" stroke-width="0.25" >Jul</text>
<line x1="752" y1="531.4" x2="752" y2="533.6" stroke="#6a6d78" stroke-width="1" />
<text x="752" y="544.6" fill="#5a5d68" font-size="8.2" text-anchor="middle" font-weight="normal" stroke="#5a5d68" stroke-width="0.25" >Oct</text>
<line x1="826.2" y1="531.4" x2="826.2" y2="533.6" stroke="#6a6d78" stroke-width="1" />
<text x="817.0" y="544.7" fill="#50535e" font-size="9.5" text-anchor="start" font-weight="normal" textLength="18.4" lengthAdjust="spacingAndGlyphs" stroke="#50535e" stroke-width="0.5" >2020</text>
</svg>
</body></html>
